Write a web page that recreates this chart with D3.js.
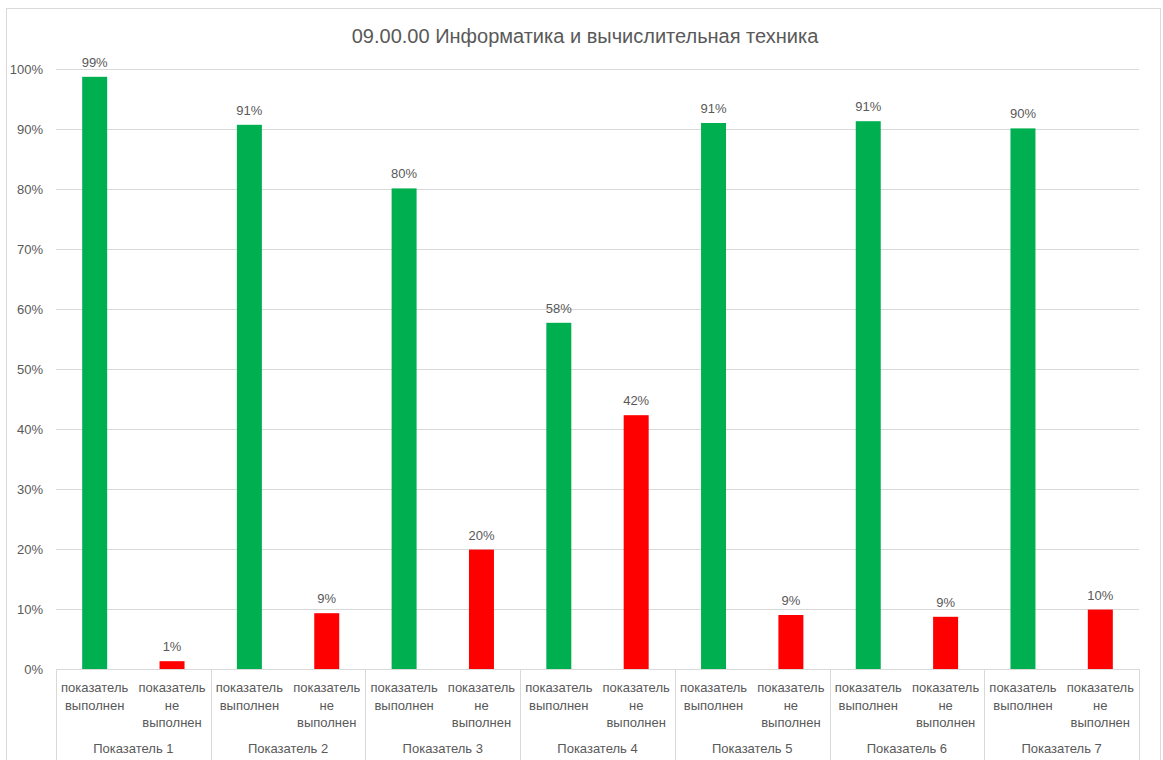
<!DOCTYPE html>
<html><head><meta charset="utf-8">
<script src="https://cdn.jsdelivr.net/npm/d3@7"></script>
<style>body{margin:0;background:#fff;}text{font-family:"Liberation Sans",Arial,sans-serif;fill:#595959;}</style>
</head><body>
<svg id="c" width="1163" height="760"></svg>
<script>
const title = "09.00.00 Информатика и вычислительная техника";
const groups = ["Показатель 1","Показатель 2","Показатель 3","Показатель 4","Показатель 5","Показатель 6","Показатель 7"];
const subKeys = ["done","notDone"];
const subLabels = [["показатель","выполнен"],["показатель","не","выполнен"]];
const doneValues = [98.7, 90.7, 80.1, 57.7, 91.0, 91.3, 90.1];
const notDoneValues = [1.3, 9.3, 19.9, 42.3, 9.0, 8.7, 9.9];
const doneLabels = ["99%","91%","80%","58%","91%","91%","90%"];
const notDoneLabels = ["1%","9%","20%","42%","9%","9%","10%"];
const yTicks = [0,10,20,30,40,50,60,70,80,90,100];
const colors = {done:"#00b050", notDone:"#ff0000"};

const svg = d3.select("#c");
const W = 1163, H = 760;
const m = {left:56, right:1139, top:69, bottom:669};

svg.append("rect").attr("x",6.5).attr("y",8.5).attr("width",1154).attr("height",770)
  .attr("fill","#fff").attr("stroke","#d9d9d9");

svg.append("text").attr("x",585).attr("y",43).attr("text-anchor","middle")
  .style("font-size","20px").text(title);

const y = d3.scaleLinear().domain([0,100]).range([m.bottom, m.top]);
const x0 = d3.scaleBand().domain(groups).range([m.left, m.right]).padding(0);
const x1 = d3.scaleBand().domain(subKeys).range([0, x0.bandwidth()]).paddingInner(0.677).paddingOuter(0.3385);

// gridlines
svg.append("g").selectAll("line").data(yTicks.filter(t=>t>0)).join("line")
  .attr("x1",m.left).attr("x2",m.right)
  .attr("y1",d=>Math.round(y(d))+0.5).attr("y2",d=>Math.round(y(d))+0.5)
  .attr("stroke","#d9d9d9").attr("stroke-width",1);

// y axis labels
const yAxis = d3.axisLeft(y).tickValues(yTicks).tickFormat(d=>d+"%").tickSize(0).tickPadding(13);
const ya = svg.append("g").attr("transform",`translate(${m.left},0)`).call(yAxis);
ya.select(".domain").remove();
ya.selectAll("text").style("font-size","13px").attr("fill","#595959").style("font-family",null);

const data = groups.map((g,i)=>({g, vals:[
  {k:"done", v:doneValues[i], lab:doneLabels[i]},
  {k:"notDone", v:notDoneValues[i], lab:notDoneLabels[i]}]}));

const gg = svg.append("g").selectAll("g").data(data).join("g")
  .attr("transform",d=>`translate(${x0(d.g)},0)`);
gg.selectAll("rect").data(d=>d.vals).join("rect")
  .attr("x",d=>x1(d.k)).attr("width",x1.bandwidth())
  .attr("y",d=>y(d.v)).attr("height",d=>y(0)-y(d.v))
  .attr("fill",d=>colors[d.k]);
gg.selectAll("text.lab").data(d=>d.vals).join("text").attr("class","lab")
  .attr("x",d=>x1(d.k)+x1.bandwidth()/2).attr("y",d=>y(d.v)-10)
  .attr("text-anchor","middle").style("font-size","13px").text(d=>d.lab);

// category axis
svg.append("line").attr("x1",m.left).attr("x2",m.right).attr("y1",m.bottom+0.5).attr("y2",m.bottom+0.5)
  .attr("stroke","#d9d9d9");
const bounds = groups.map(g=>x0(g)).concat([m.right]);
svg.append("g").selectAll("line").data(bounds).join("line")
  .attr("x1",d=>Math.round(d)+0.5).attr("x2",d=>Math.round(d)+0.5)
  .attr("y1",m.bottom).attr("y2",H)
  .attr("stroke","#d9d9d9");

const subG = gg.selectAll("text.sub").data(subKeys).join("text").attr("class","sub")
  .attr("text-anchor","middle").style("font-size","13px")
  .attr("x",(d)=>x1(d)+x1.bandwidth()/2);
subG.each(function(d,i){
  d3.select(this).selectAll("tspan").data(subLabels[i]).join("tspan")
    .attr("x",x1(d)+x1.bandwidth()/2).attr("y",(t,j)=>m.bottom+23+j*17.5).text(t=>t);
});
gg.append("text").attr("x",x0.bandwidth()/2).attr("y",753).attr("text-anchor","middle")
  .style("font-size","13px").text(d=>d.g);
</script>
</body></html>
